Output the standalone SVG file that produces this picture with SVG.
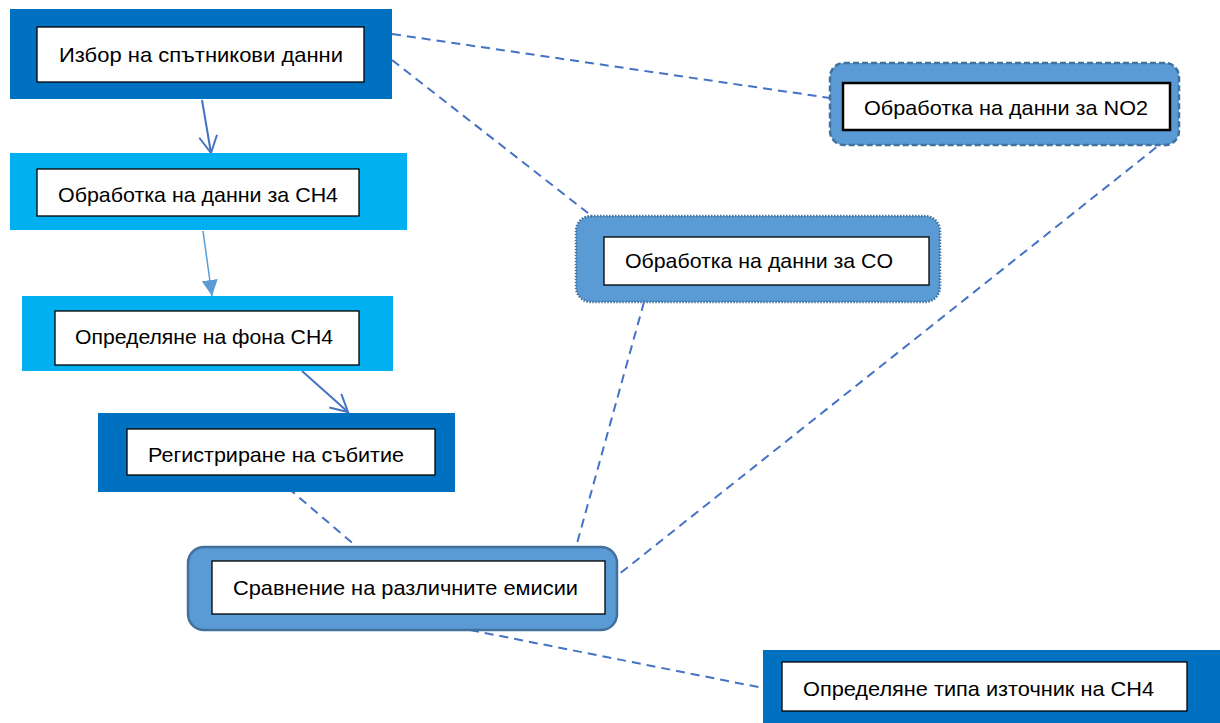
<svg xmlns="http://www.w3.org/2000/svg" width="1220" height="723" viewBox="0 0 1220 723">
<style>
.dark{fill:#0070C0}
.light{fill:#00B0F0}
.rnd{fill:#5B9BD5;stroke:#41719C;stroke-width:2.5}
.inner{fill:#FFFFFF;stroke:#000000;stroke-width:1.3}
.t{font-family:"Liberation Sans",Arial,sans-serif;font-size:21px;fill:#000000}
.dash{stroke:#4472C4;stroke-width:2;stroke-dasharray:9 6;fill:none}
.solid{stroke:#4472C4;stroke-width:2;fill:none}
</style>
<defs>
<marker id="openArrow" markerUnits="userSpaceOnUse" markerWidth="24" markerHeight="22" refX="20" refY="10" orient="auto">
<path d="M3,1 L20,10 L3,19" fill="none" stroke="#4472C4" stroke-width="2"/>
</marker>
<marker id="fillArrow" markerUnits="userSpaceOnUse" markerWidth="18" markerHeight="18" refX="16" refY="8" orient="auto">
<path d="M0,0 L16,8 L0,16 Z" fill="#5B9BD5"/>
</marker>
</defs>
<g id="connectors">
<line class="solid" x1="202" y1="100" x2="211" y2="153" marker-end="url(#openArrow)"/>
<line x1="203" y1="231" x2="212" y2="296" stroke="#5B9BD5" stroke-width="1.5" marker-end="url(#fillArrow)"/>
<line class="solid" x1="302" y1="371" x2="348" y2="412" marker-end="url(#openArrow)"/>
<line class="dash" x1="392" y1="34" x2="830" y2="98"/>
<line class="dash" x1="392" y1="60" x2="588" y2="213"/>
<line class="dash" x1="288" y1="488" x2="357" y2="547"/>
<line class="dash" x1="644" y1="302" x2="576" y2="547"/>
<line class="dash" x1="1168" y1="138" x2="618" y2="575"/>
<line class="dash" x1="470" y1="630" x2="763" y2="688"/>
</g>
<g id="node-izbor">
<rect class="dark" x="10" y="9" width="382" height="90"/>
<rect class="inner" x="37" y="27" width="327" height="55"/>
<text class="t" x="59" y="62" textLength="284" lengthAdjust="spacingAndGlyphs">Избор на спътникови данни</text>
</g>
<g id="node-ch4">
<rect class="light" x="10" y="153" width="397" height="77"/>
<rect class="inner" x="37" y="169" width="322" height="47"/>
<text class="t" x="58" y="202" textLength="280" lengthAdjust="spacingAndGlyphs">Обработка на данни за CH4</text>
</g>
<g id="node-fon">
<rect class="light" x="22" y="296" width="371" height="75"/>
<rect class="inner" x="55" y="311" width="304" height="54"/>
<text class="t" x="75" y="344" textLength="258" lengthAdjust="spacingAndGlyphs">Определяне на фона CH4</text>
</g>
<g id="node-sabitie">
<rect class="dark" x="98" y="413" width="357" height="79"/>
<rect class="inner" x="127" y="429" width="308" height="46"/>
<text class="t" x="148" y="462" textLength="256" lengthAdjust="spacingAndGlyphs">Регистриране на събитие</text>
</g>
<g id="node-sravnenie">
<rect class="rnd" x="188" y="547" width="429" height="83" rx="16" ry="16"/>
<rect class="inner" x="212" y="561" width="393" height="53"/>
<text class="t" x="233" y="595" textLength="345" lengthAdjust="spacingAndGlyphs">Сравнение на различните емисии</text>
</g>
<g id="node-no2">
<rect class="rnd" x="830" y="63" width="349" height="82" rx="14" ry="14" stroke-dasharray="6 3"/>
<rect x="843" y="83" width="327" height="47" fill="#FFFFFF" stroke="#000000" stroke-width="2.5"/>
<text class="t" x="864" y="115" textLength="284" lengthAdjust="spacingAndGlyphs">Обработка на данни за NO2</text>
</g>
<g id="node-co">
<rect class="rnd" x="576" y="216" width="364" height="86" rx="15" ry="15" stroke-dasharray="1.5 1.5"/>
<rect class="inner" x="604" y="237" width="325" height="48"/>
<text class="t" x="625" y="268" textLength="268" lengthAdjust="spacingAndGlyphs">Обработка на данни за CO</text>
</g>
<g id="node-iztochnik">
<rect class="dark" x="763" y="650" width="460" height="75"/>
<rect class="inner" x="782" y="662" width="405" height="49"/>
<text class="t" x="803" y="696" textLength="351" lengthAdjust="spacingAndGlyphs">Определяне типа източник на CH4</text>
</g>
</svg>
